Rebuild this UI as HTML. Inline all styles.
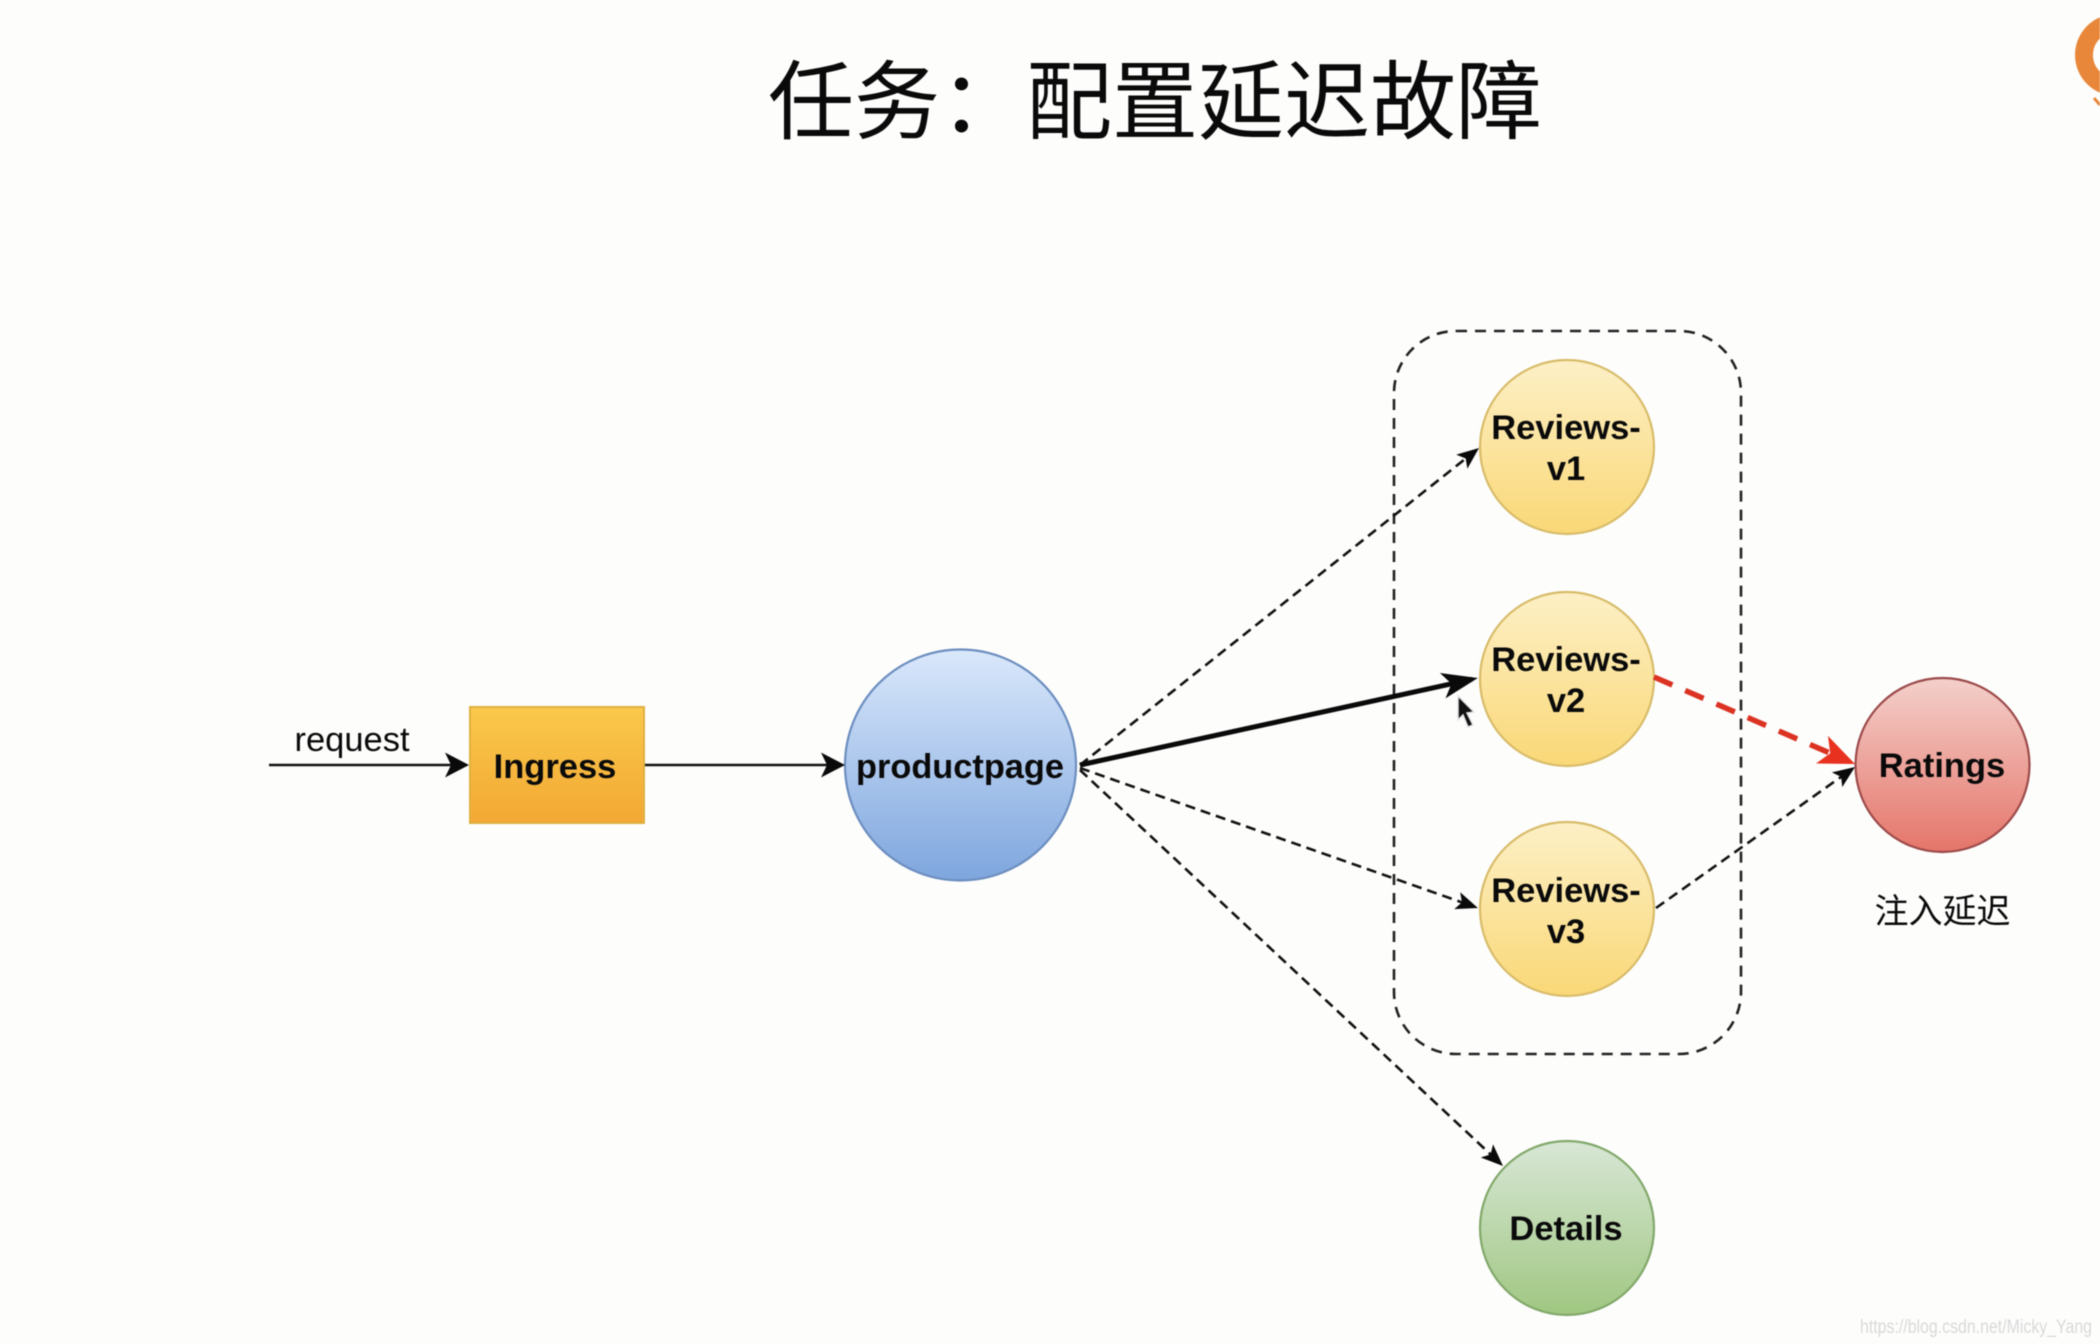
<!DOCTYPE html>
<html><head><meta charset="utf-8"><style>
html,body{margin:0;padding:0;background:#fdfdfc;width:2100px;height:1344px;overflow:hidden}
svg{display:block;filter:blur(.6px)}
text{font-family:"Liberation Sans","Noto Sans CJK SC",sans-serif;fill:#0a0a0a}
.b{font-weight:bold;font-size:34.5px;text-anchor:middle}
.d{fill:none;stroke:#111;stroke-width:2.6;stroke-dasharray:10 6}
</style></head><body>
<svg width="2100" height="1344" viewBox="0 0 2100 1344" xmlns="http://www.w3.org/2000/svg">
<defs>
<linearGradient id="y" x1="0" y1="0" x2="0" y2="1"><stop offset="0" stop-color="#fdf0c6"/><stop offset="1" stop-color="#fad877"/></linearGradient>
<linearGradient id="bl" x1="0" y1="0" x2="0" y2="1"><stop offset="0" stop-color="#dae8fb"/><stop offset="1" stop-color="#7ea6de"/></linearGradient>
<linearGradient id="r" x1="0" y1="0" x2="0" y2="1"><stop offset="0" stop-color="#f4d0cb"/><stop offset="1" stop-color="#e5756a"/></linearGradient>
<linearGradient id="g" x1="0" y1="0" x2="0" y2="1"><stop offset="0" stop-color="#d8e7d6"/><stop offset="1" stop-color="#a0c781"/></linearGradient>
<linearGradient id="o" x1="0" y1="0" x2="0" y2="1"><stop offset="0" stop-color="#fac94c"/><stop offset="1" stop-color="#f3a834"/></linearGradient>
<marker id="a1" markerUnits="userSpaceOnUse" markerWidth="40" markerHeight="40" refX="18" refY="20" orient="auto" viewBox="0 0 40 40"><path d="M0 7.5L24 20L0 32.5L6 20Z" fill="#0a0a0a"/></marker>
<marker id="a2" markerUnits="userSpaceOnUse" markerWidth="40" markerHeight="40" refX="16" refY="20" orient="auto" viewBox="0 0 40 40"><path d="M0 11L22 20L0 29L5 20Z" fill="#0a0a0a"/></marker>
<marker id="a3" markerUnits="userSpaceOnUse" markerWidth="60" markerHeight="60" refX="30" refY="30" orient="auto" viewBox="0 0 60 60"><path d="M0 17L36 30L0 43L9 30Z" fill="#0a0a0a"/></marker>
<marker id="a4" markerUnits="userSpaceOnUse" markerWidth="60" markerHeight="60" refX="30" refY="30" orient="auto" viewBox="0 0 60 60"><path d="M0 15L36 30L0 45L9 30Z" fill="#e8321f"/></marker>
</defs>

<rect width="2100" height="1344" fill="#fdfdfc"/>

<!-- corner logo -->
<circle cx="2116" cy="55" r="32" fill="none" stroke="#e8873a" stroke-width="18"/>
<path d="M2094 98L2100 105" stroke="#e8873a" stroke-width="3" fill="none"/>

<!-- title -->
<text x="768" y="132" font-size="86" style="font-family:'Noto Sans CJK SC',sans-serif" textLength="774" lengthAdjust="spacingAndGlyphs">任务：配置延迟故障</text>

<!-- group box -->
<rect x="1394" y="331" width="347" height="723" rx="62" ry="62" fill="none" stroke="#222" stroke-width="2.6" stroke-dasharray="11 8"/>

<!-- shapes -->
<rect x="470" y="707" width="174" height="116" fill="url(#o)" stroke="#e0b040" stroke-width="2"/>
<circle cx="960.5" cy="765" r="115.5" fill="url(#bl)" stroke="#6c8ebf" stroke-width="2.2"/>
<circle cx="1567" cy="447" r="87" fill="url(#y)" stroke="#d8bc6a" stroke-width="2.2"/>
<circle cx="1567" cy="679" r="87" fill="url(#y)" stroke="#d8bc6a" stroke-width="2.2"/>
<circle cx="1567" cy="909" r="87" fill="url(#y)" stroke="#d8bc6a" stroke-width="2.2"/>
<circle cx="1567" cy="1228" r="87" fill="url(#g)" stroke="#82a86a" stroke-width="2.2"/>
<circle cx="1942.5" cy="765" r="87" fill="url(#r)" stroke="#9c4a4a" stroke-width="2.2"/>

<!-- connectors -->
<line x1="269" y1="765" x2="463" y2="765" stroke="#111" stroke-width="2.6" marker-end="url(#a1)"/>
<line x1="645" y1="765" x2="839" y2="765" stroke="#111" stroke-width="2.6" marker-end="url(#a1)"/>
<line class="d" x1="1080" y1="765" x2="1474.3" y2="451.7" marker-end="url(#a2)"/>
<line class="d" x1="1080" y1="768" x2="1472.3" y2="906" marker-end="url(#a2)"/>
<line class="d" x1="1080" y1="770" x2="1498.6" y2="1161.9" marker-end="url(#a2)"/>
<line class="d" x1="1656" y1="908" x2="1850.1" y2="770.5" marker-end="url(#a2)"/>
<line x1="1080" y1="765" x2="1472" y2="679.3" stroke="#0a0a0a" stroke-width="5" marker-end="url(#a3)"/>
<line x1="1654" y1="677" x2="1849.5" y2="761.6" stroke="#dc3222" stroke-width="5.5" stroke-dasharray="20 14" marker-end="url(#a4)"/>

<!-- cursor -->
<path d="M1458 696L1474 712L1467 713L1473 725L1468 727L1463 715L1458 720Z" fill="#111" stroke="#e4e4e4" stroke-width="1.5"/>

<!-- labels -->
<text x="352" y="751" font-size="34.5" text-anchor="middle">request</text>
<text class="b" x="555" y="778">Ingress</text>
<text class="b" x="960" y="778" textLength="208" lengthAdjust="spacingAndGlyphs">productpage</text>
<text class="b" x="1566" y="439">Reviews-</text>
<text class="b" x="1566" y="480">v1</text>
<text class="b" x="1566" y="671">Reviews-</text>
<text class="b" x="1566" y="712">v2</text>
<text class="b" x="1566" y="902">Reviews-</text>
<text class="b" x="1566" y="943">v3</text>
<text class="b" x="1566" y="1240">Details</text>
<text class="b" x="1942" y="777">Ratings</text>
<text x="1942.5" y="923" font-size="34" text-anchor="middle">注入延迟</text>
<text x="1860" y="1333" font-size="19" style="fill:#d9d9d9" textLength="232" lengthAdjust="spacingAndGlyphs">https://blog.csdn.net/Micky_Yang</text>
</svg>
</body></html>
